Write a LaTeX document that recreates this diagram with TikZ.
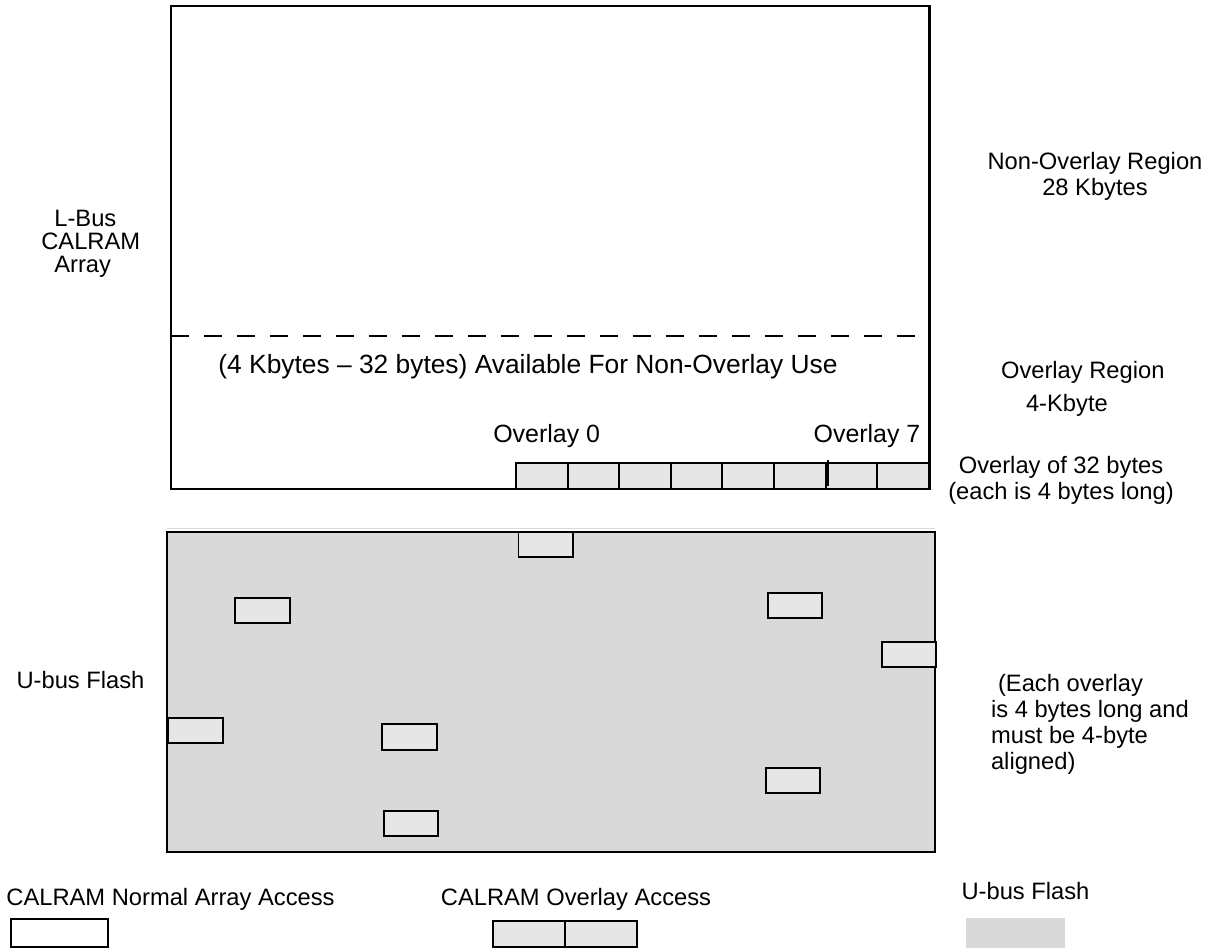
\documentclass[tikz,border=0pt]{standalone}
\usepackage{fontspec}
\setmainfont{Liberation Sans}
\usepackage{xcolor}
\usepackage{tikz}
\usetikzlibrary{positioning,calc}

\definecolor{flashgray}{RGB}{217,217,217}
\definecolor{ovlgray}{RGB}{230,230,230}

\begin{document}
\begin{tikzpicture}[
    x=0.02cm, y=-0.02cm,
    every node/.style={font=\fontsize{13.5}{14.8}\selectfont},
    region/.style={
        rectangle, draw=black, line width=1.3pt,
        inner sep=0pt, outer sep=0pt
    },
    ovlcell/.style={
        rectangle, draw=black, line width=1.1pt, fill=ovlgray,
        inner sep=0pt, outer sep=0pt,
        minimum width=1.032cm, minimum height=0.526cm
    },
    ovlbox/.style={ovlcell, minimum width=1.09cm, minimum height=0.51cm},
    lbl/.style={inner sep=0pt, align=center},
    divline/.style={line width=1.1pt, dash pattern=on 0.36cm off 0.3cm}
]
\useasboundingbox (0,0) rectangle (1218,949);

% CALRAM array (top) and U-bus flash (bottom)
\node[region, minimum width=15.18cm, minimum height=9.66cm] (calram) at (550.1,247.5) {};
\node[region, fill=flashgray, line width=1.1pt, minimum width=15.37cm, minimum height=6.4cm] (flash) at (550.85,691.7) {};
\draw[black!15, line width=0.6pt] ($(flash.north west)+(0,-3.5)$) -- ($(flash.north east)+(0,-3.5)$);

% Split between non-overlay and overlay region
\coordinate (dashL) at (171,336);
\coordinate (dashR) at (930,336);
\draw[divline] (dashL) -- (dashR);

% Overlay strip: 8 overlays of 4 bytes
\foreach \i in {0,...,7}
    \node[ovlcell] (cell\i) at ({541.8+51.6*\i},475.85) {};
\draw[line width=1.1pt] ($(cell5.north east)+(2.5,-2.5)$) -- ($(cell5.south east)+(2.5,-2.5)$);

% Overlays mapped somewhere in the flash
\foreach \n/\x/\y in {1/545.75/544.35, 2/262.7/610.5, 3/795/605.3, 4/909.1/654.35,
                      5/195.3/730.3, 6/409.35/736.8, 7/793/780.3, 8/410.9/823.7}
    \node[ovlbox] (ovl\n) at (\x,\y) {};

% Labels
\node[lbl, anchor=west, align=left, font=\fontsize{13.5}{13.2}\selectfont] (lbus) at (41,244) {\hspace*{0.26cm}L-Bus\\CALRAM\\\hspace*{0.26cm}Array};
\node[lbl] (nonovl) at (1095,176.5) {Non-Overlay Region\\28 Kbytes};
\node[lbl, font=\fontsize{15}{16}\selectfont] (avail) at (528,367) {(4 Kbytes \textendash{} 32 bytes) Available For Non-Overlay Use};
\node[lbl, anchor=west, align=left] (ovlreg) at (1000.7,389) {Overlay Region\\[4pt]\hspace*{0.5cm}4-Kbyte};
\node[lbl, font=\fontsize{14.2}{15}\selectfont] (ovlzero) at (546.7,436) {Overlay 0};
\node[lbl, font=\fontsize{14.2}{15}\selectfont] (ovlseven) at (867,436) {Overlay 7};
\node[lbl] (ovl32) at (1061,480.5) {Overlay of 32 bytes\\(each is 4 bytes long)};
\node[lbl] (ubus) at (80.5,680) {U-bus Flash};
\node[lbl, anchor=west, align=left] (eachovl) at (990.7,724) {\hspace*{0.14cm}(Each overlay\\is 4 bytes long and\\must be 4-byte\\aligned)};

% Legend along the bottom
\node[lbl] (lgnormaltxt) at (170.5,899) {CALRAM Normal Array Access};
\node[region, line width=1.1pt, minimum width=1.946cm, minimum height=0.554cm] (lgnormal) at (59.35,932.85) {};
\node[lbl] (lgovltxt) at (576,899) {CALRAM Overlay Access};
\node[ovlcell, minimum width=1.446cm, minimum height=0.52cm] (lgovlA) at (528.85,933.7) {};
\node[ovlcell, minimum width=1.446cm, minimum height=0.52cm] (lgovlB) at (601.15,933.7) {};
\node[lbl] (lgflashtxt) at (1025.5,891) {U-bus Flash};
\node[rectangle, fill=flashgray, inner sep=0pt, minimum width=1.98cm, minimum height=0.6cm] (lgflash) at (1015.5,932.7) {};
\end{tikzpicture}
\end{document}
